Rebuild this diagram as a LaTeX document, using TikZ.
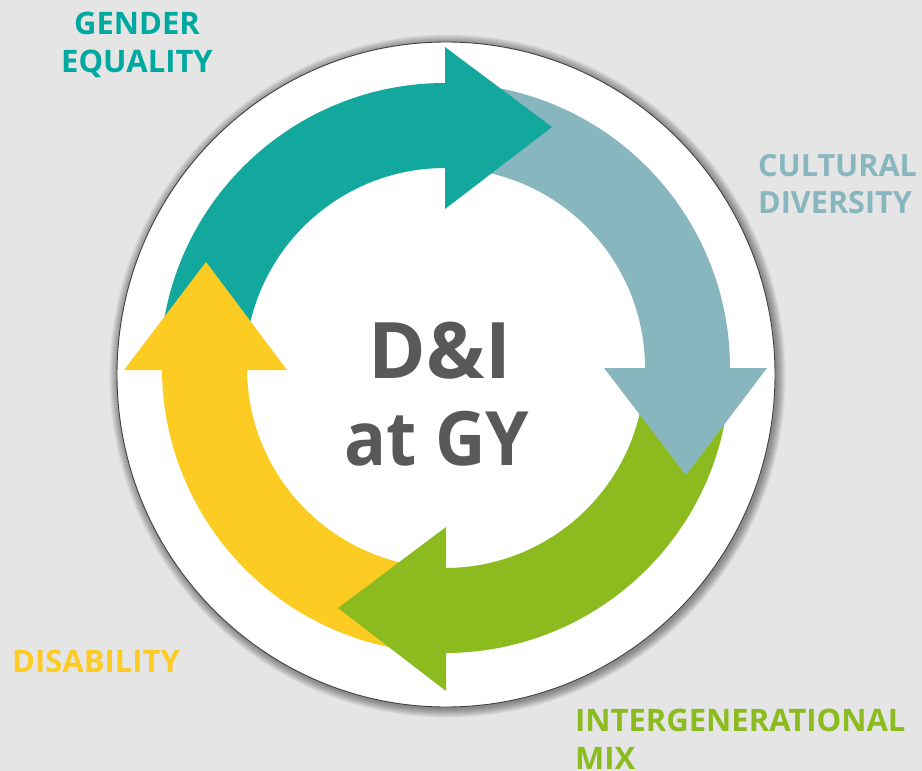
\documentclass[tikz,border=0pt]{standalone}
\usepackage{fontspec}
\usepackage{graphicx}
\usetikzlibrary{calc}
\setmainfont{Open Sans}
\definecolor{bgc}{HTML}{E5E5E5}
\definecolor{teal1}{HTML}{13A89E}
\definecolor{tealtext}{HTML}{00A9A0}
\definecolor{blue1}{HTML}{88B6BF}
\definecolor{green1}{HTML}{8BBB1F}
\definecolor{yellow1}{HTML}{FDCC22}
\definecolor{dark1}{HTML}{595959}
\tikzset{
  lab/.style={font=\bfseries\fontsize{31}{37.5}\selectfont, align=left, inner sep=0pt},
  mid/.style={font=\bfseries\fontsize{78}{90}\selectfont, text=dark1, align=center, inner sep=0pt},
  ringpart/.style={draw=none},
}
\begin{document}
\begin{tikzpicture}[x=1pt,y=1pt]
\useasboundingbox (0,0) rectangle (922,-771);
\fill[bgc] (0,0) rectangle (922,-771);
% soft shadow and disc
\foreach \d in {1,...,9}{
  \fill[black,opacity=0.05] (447.5,-376) ellipse [x radius=329+\d, y radius=332.5+\d];
}
\filldraw[fill=white,draw=black!75,line width=0.9pt] (446,-374.5) ellipse [x radius=329, y radius=332.5];
\coordinate (C) at (445,-368);
\coordinate (CY) at (447,-368);
% bodies
\fill[teal1,ringpart] ($(C)+(175:285)$) arc[start angle=175,end angle=90,radius=285] -- ($(C)+(90:200)$) arc[start angle=90,end angle=175,radius=200] -- cycle;
\fill[blue1,ringpart] ($(C)+(80:285)$) arc[start angle=80,end angle=0,radius=285] -- ($(C)+(0:200)$) arc[start angle=0,end angle=80,radius=200] -- cycle;
\fill[green1,ringpart] ($(C)+(-10:285)$) arc[start angle=-10,end angle=-90,radius=285] -- ($(C)+(-90:200)$) arc[start angle=-90,end angle=-10,radius=200] -- cycle;
\fill[yellow1,ringpart] ($(CY)+(-100:285)$) arc[start angle=-100,end angle=-180,radius=285] -- ($(CY)+(180:200)$) arc[start angle=180,end angle=260,radius=200] -- cycle;
% heads
\fill[teal1] (445,-47) -- (552,-127) -- (445,-209) -- cycle;
\fill[blue1] (604,-368) -- (767,-368) -- (686,-475) -- cycle;
\fill[green1] (446,-527) -- (446,-691) -- (338,-608) -- cycle;
\fill[yellow1] (124,-370) -- (287,-370) -- (206,-262) -- cycle;
% text
\node[mid] (c1) at (440,-351) {D\&I};
\node[mid,font=\bfseries\fontsize{75}{90}\selectfont] (c2) at (437,-439) {\scalebox{0.93}[1]{at GY}};
\node[lab,text=tealtext,align=center] (a) at (137,-45) {GENDER\\EQUALITY};
\node[lab,text=blue1,anchor=north west,font=\bfseries\fontsize{30.6}{37.5}\selectfont] (b) at (758,-154) {CULTURAL\\DIVERSITY};
\node[lab,text=green1,anchor=north west] (d) at (575,-709) {INTERGENERATIONAL\\MIX};
\node[lab,text=yellow1,anchor=west] (e) at (12,-661) {DISABILITY};
\end{tikzpicture}
\end{document}
